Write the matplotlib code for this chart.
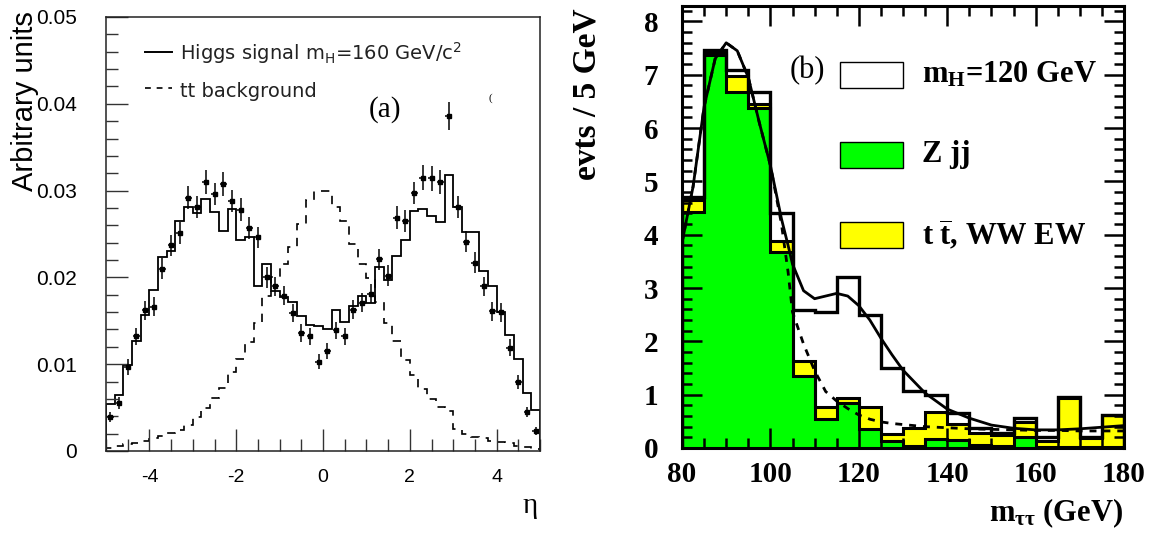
import numpy as np
import matplotlib
matplotlib.use("Agg")
import matplotlib.pyplot as plt
from matplotlib.patches import Rectangle
from matplotlib.ticker import MultipleLocator, FuncFormatter

# ---------------- panel (a): eta, 50 bins of 0.2 in [-5, 5]  (units of 1e-3)
eta_edges = np.linspace(-5, 5, 51)
eta_centers = 0.5 * (eta_edges[1:] + eta_edges[:-1])

higgs_eta = [5.4, 6.45, 9.96, 12.7, 15.7, 18.5, 22.4, 23.0, 26.5, 28.1,
             27.4, 29.0, 27.5, 25.4, 27.9, 24.3, 24.6, 19.0, 21.5, 18.4,
             17.7, 17.2, 15.5, 14.5, 14.4, 14.1, 16.3, 14.9, 16.7, 17.9,
             17.1, 21.2, 19.7, 22.5, 24.3, 27.6, 27.9, 27.1, 26.4, 31.8,
             28.1, 25.2, 25.2, 20.7, 19.0, 16.0, 13.4, 10.6, 6.7, 4.7]

ttbar_eta = [0.3, 0.55, 0.75, 0.9, 1.2, 1.45, 1.75, 2.05, 2.45, 3.0,
             3.96, 5.0, 6.05, 7.3, 9.1, 10.6, 12.6, 14.7, 17.8, 20.1,
             21.6, 23.5, 26.2, 28.9, 30.0, 30.0, 28.1, 26.5, 23.9, 21.6,
             19.9, 17.2, 14.7, 12.7, 10.5, 8.8, 7.2, 6.0, 5.1, 4.6,
             2.5, 2.0, 1.65, 1.5, 1.15, 1.05, 0.9, 0.6, 0.45, 0.23]

points_eta = [3.95, 5.49, 9.7, 13.2, 16.2, 16.6, 21.0, 23.7, 25.1, 29.2,
              28.1, 31.0, 29.6, 30.8, 28.8, 27.8, 25.7, 24.6, 20.0, 19.0,
              17.9, 15.9, 13.6, 13.2, 10.3, 11.5, 13.9, 13.2, 16.3, 17.1,
              18.1, 22.1, 20.2, 26.9, 26.5, 29.7, 31.5, 31.4, 31.0, 38.6,
              28.1, 24.1, 21.7, 19.0, 16.1, 16.0, 11.9, 7.9, 4.5, 2.3]

points_err = [0.6, 0.7, 0.9, 1.0, 1.1, 1.1, 1.2, 1.2, 1.3, 1.3,
              1.3, 1.4, 1.3, 1.4, 1.3, 1.3, 1.3, 1.2, 1.2, 1.1,
              1.1, 1.0, 1.0, 1.0, 0.9, 0.9, 1.0, 1.0, 1.1, 1.1,
              1.1, 1.2, 1.2, 1.3, 1.3, 1.3, 1.4, 1.4, 1.4, 1.6,
              1.3, 1.2, 1.2, 1.1, 1.1, 1.1, 1.0, 0.8, 0.6, 0.5]

# ---------------- panel (b): m_tautau, 20 bins of 5 GeV
m_edges = np.arange(80, 181, 5)
zjj = [4.42, 7.37, 6.68, 6.38, 3.68, 1.35, 0.54, 0.84, 0.36, 0.13,
       0.04, 0.17, 0.15, 0.06, 0.03, 0.21, 0.02, 0.02, 0.02, 0.01]
ttww = [0.23, 0.03, 0.30, 0.07, 0.21, 0.28, 0.22, 0.10, 0.41, 0.13,
        0.33, 0.51, 0.30, 0.23, 0.21, 0.27, 0.12, 0.91, 0.17, 0.61]
higgs_m = [0.05, 0.07, 0.11, 0.22, 0.51, 0.96, 1.80, 2.27, 1.73, 1.24,
           0.69, 0.31, 0.20, 0.08, 0.04, 0.08, 0.07, 0.02, 0.02, 0.00]

fit_m = [80, 82.5, 85, 87.5, 90, 92.5, 95, 97.5, 100, 102.5,
         104, 105, 107.5, 110, 112.5, 115, 117.5, 120, 122.5, 125,
         127.5, 130, 135, 140, 145, 150, 155, 160, 165, 170, 175, 180]
fit_total = [3.85, 4.9, 6.4, 7.3, 7.6, 7.45, 6.95, 6.1, 5.3, 4.3,
             3.8, 3.45, 2.95, 2.8, 2.85, 2.9, 2.85, 2.67, 2.4, 2.06,
             1.75, 1.46, 1.03, 0.73, 0.56, 0.43, 0.37, 0.34, 0.34, 0.36, 0.39, 0.42]
fit_bkg = [3.85, 4.9, 6.4, 7.3, 7.6, 7.45, 6.95, 6.1, 5.3, 4.2,
           3.3, 2.55, 1.95, 1.45, 1.06, 0.88, 0.74, 0.62, 0.54, 0.49,
           0.46, 0.44, 0.40, 0.38, 0.36, 0.35, 0.34, 0.33, 0.33, 0.32, 0.32, 0.32]

plt.rcParams['axes.unicode_minus'] = False
plt.rcParams['mathtext.fontset'] = 'custom'
plt.rcParams['mathtext.rm'] = 'Liberation Serif'
plt.rcParams['mathtext.it'] = 'Liberation Serif:italic'
plt.rcParams['mathtext.bf'] = 'Liberation Serif:bold'

fig = plt.figure(figsize=(11.62, 5.33), dpi=100)

# =============== left panel
ax1 = fig.add_axes([106 / 1162, 1 - 451 / 533, 434 / 1162, 434 / 533])
scale = 1e-3
ax1.stairs(np.array(higgs_eta) * scale, eta_edges, color='black', lw=1.3)
ax1.stairs(np.array(ttbar_eta) * scale, eta_edges, color='black', lw=1.2,
           linestyle=(0, (5, 4.5)))
ax1.errorbar(eta_centers, np.array(points_eta) * scale,
             yerr=np.array(points_err) * scale, xerr=0.08, fmt='s',
             ms=3.5, color='black', elinewidth=1.1, capsize=0)

ax1.set_xlim(-5, 5)
ax1.set_ylim(0, 0.05)
ax1.xaxis.set_major_locator(MultipleLocator(2))
ax1.xaxis.set_minor_locator(MultipleLocator(0.5))
ax1.yaxis.set_major_locator(MultipleLocator(0.01))
ax1.yaxis.set_minor_locator(MultipleLocator(0.002))
ax1.yaxis.set_major_formatter(FuncFormatter(lambda v, p: "%g" % round(v, 3)))
ax1.tick_params(which='both', direction='in', top=False, right=False,
                color='#333333', width=1.0)
ax1.tick_params(which='major', length=15.5)
ax1.tick_params(which='minor', length=8.5)
ax1.tick_params(axis='y', which='major', pad=21, labelsize=15)
ax1.tick_params(axis='x', which='major', pad=13, labelsize=14)
for lab in ax1.get_xticklabels() + ax1.get_yticklabels():
    lab.set_family('Liberation Sans')
for s in ax1.spines.values():
    s.set_linewidth(1.1)
    s.set_color('#222222')

# legend of panel (a)
ax1.plot([0.09, 0.152], [0.919, 0.919], transform=ax1.transAxes,
         color='black', lw=1.4)
ax1.plot([0.09, 0.152], [0.836, 0.836], transform=ax1.transAxes,
         color='black', lw=1.2, linestyle=(0, (3.5, 3.5)))
ax1.text(0.17, 0.901, r"Higgs signal m$_{\mathrm{H}}$=160 GeV/c$^{2}$",
         transform=ax1.transAxes, fontsize=14, family='DejaVu Sans',
         math_fontfamily='dejavusans', va='baseline', color='#222222')
ax1.text(0.17, 0.816, "tt background", transform=ax1.transAxes,
         fontsize=14, family='DejaVu Sans', va='baseline', color='#222222')
ax1.text(0.643, 0.786, "(a)", transform=ax1.transAxes, fontsize=21,
         family='Liberation Serif', ha='center', va='center')
ax1.text(0.885, 0.813, "(", transform=ax1.transAxes, fontsize=8,
         family='Liberation Serif', ha='center', va='center')

fig.text(0.0215, 0.81, "Arbitrary units", rotation=90, fontsize=21,
         family='Liberation Sans', ha='center', va='center')
fig.text(0.456, 0.05, "η", fontsize=21, family='Liberation Serif',
         ha='center', va='center')

# =============== right panel
ax2 = fig.add_axes([682 / 1162, 1 - 448 / 533, 442 / 1162, 442 / 533])
zjj_a = np.array(zjj)
yel_top = zjj_a + np.array(ttww)
tot_top = yel_top + np.array(higgs_m)

ax2.stairs(zjj_a, m_edges, baseline=0, fill=True, color='#00ff00', lw=0)
ax2.stairs(yel_top, m_edges, baseline=zjj_a, fill=True, color='#ffff00', lw=0)
ax2.stairs(zjj_a, m_edges, color='black', lw=2.2)
ax2.stairs(yel_top, m_edges, color='black', lw=2.2)
ax2.stairs(tot_top, m_edges, color='black', lw=2.4)

ax2.plot(fit_m, fit_bkg, color='black', lw=2.0, linestyle=(0, (2.5, 2.5)))
ax2.plot(fit_m, fit_total, color='black', lw=2.0)

ax2.set_xlim(80, 180)
ax2.set_ylim(0, 8.29)
ax2.xaxis.set_major_locator(MultipleLocator(20))
ax2.xaxis.set_minor_locator(MultipleLocator(5))
ax2.yaxis.set_major_locator(MultipleLocator(1))
ax2.yaxis.set_minor_locator(MultipleLocator(0.2))
ax2.tick_params(which='both', direction='in', top=True, right=True, width=1.8)
ax2.tick_params(which='major', length=14.5)
ax2.tick_params(which='minor', length=7.5)
ax2.tick_params(axis='y', which='major', pad=17, labelsize=21)
ax2.tick_params(axis='x', which='major', pad=9, labelsize=21)
for lab in ax2.get_xticklabels() + ax2.get_yticklabels():
    lab.set_family('Liberation Serif')
    lab.set_fontweight('bold')
for s in ax2.spines.values():
    s.set_linewidth(2.2)
ax2.set_zorder(1)

# legend of panel (b)
boxes = [(0.8145, 'white', r"$\mathbf{m_{H}}$=120 GeV"),
         (0.6335, '#00ff00', "Z jj"),
         (0.4525, '#ffff00', r"t $\mathbf{\overline{t}}$, WW EW")]
for y0, col, label in boxes:
    ax2.add_patch(Rectangle((0.3575, y0), 0.1425, 0.0588, transform=ax2.transAxes,
                            facecolor=col, edgecolor='black', lw=1.0, zorder=5))
    ax2.text(0.543, y0 + 0.0294, label, transform=ax2.transAxes, fontsize=22,
             family='Liberation Serif', fontweight='bold', va='center', zorder=5)
ax2.text(0.283, 0.855, "(b)", transform=ax2.transAxes, fontsize=22,
         family='Liberation Serif', ha='center', va='center', zorder=5)

fig.text(0.505, 0.824, "evts / 5 GeV", rotation=90, fontsize=24,
         family='Liberation Serif', fontweight='bold', ha='center', va='center')
fig.text(0.9665, 0.038, r"m$_{\mathbf{\tau\tau}}$ (GeV)", fontsize=22,
         family='Liberation Serif', fontweight='bold', ha='right', va='center')

fig.savefig("out.png", dpi=100)
